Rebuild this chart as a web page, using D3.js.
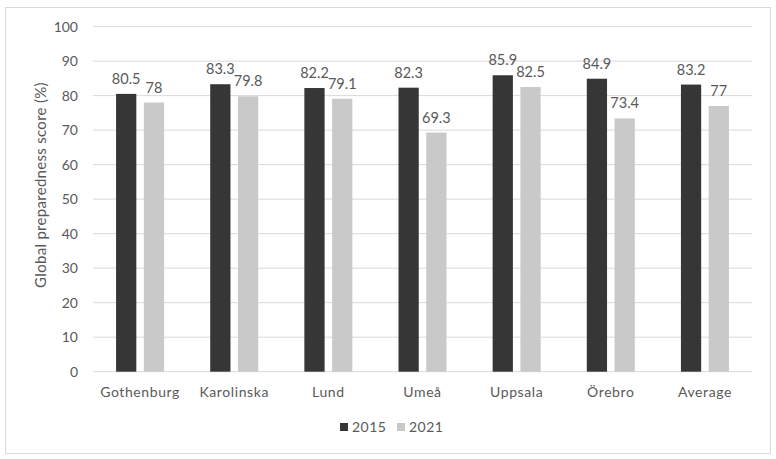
<!DOCTYPE html>
<html>
<head>
<meta charset="utf-8">
<script src="https://cdn.jsdelivr.net/npm/d3@7"></script>
<style>
  body { margin: 0; background: #fff; }
  text { font-family: Lato, "Open Sans", sans-serif; fill: #595959; }
</style>
</head>
<body>
<div id="chart"></div>
<script>
// chart data
const categories = ["Gothenburg", "Karolinska", "Lund", "Umeå", "Uppsala", "Örebro", "Average"];
const years = ["2015", "2021"];
const values2015 = [80.5, 83.3, 82.2, 82.3, 85.9, 84.9, 83.2];
const values2021 = [78, 79.8, 79.1, 69.3, 82.5, 73.4, 77];
const yTicks = [0, 10, 20, 30, 40, 50, 60, 70, 80, 90, 100];

const width = 776, height = 459;
const margin = {left: 93, right: 24, top: 26.6, bottom: 87.3};
const colors = {"2015": "#363636", "2021": "#c9c9c9"};

const svg = d3.select("#chart").append("svg")
	.attr("width", width)
	.attr("height", height);

// outer frame
svg.append("rect")
	.attr("x", 5.5).attr("y", 7.5)
	.attr("width", 765).attr("height", 446)
	.attr("fill", "#fff")
	.attr("stroke", "#d9d9d9")
	.attr("stroke-width", 1);

const x = d3.scaleBand()
	.domain(categories)
	.range([margin.left, width - margin.right])
	.padding(0);

const y = d3.scaleLinear()
	.domain([0, 100])
	.range([height - margin.bottom, margin.top]);

const sub = d3.scaleBand()
	.domain(years)
	.range([x.bandwidth() / 2 - 24, x.bandwidth() / 2 + 24])
	.paddingInner(0.27);

// gridlines
svg.append("g")
	.selectAll("line")
	.data(yTicks)
	.enter()
	.append("line")
		.attr("x1", margin.left)
		.attr("x2", width - margin.right)
		.attr("y1", d => y(d))
		.attr("y2", d => y(d))
		.attr("stroke", "#d9d9d9")
		.attr("stroke-width", 1);

// y axis labels
const yAxis = svg.append("g")
	.attr("transform", "translate(" + (margin.left - 12) + ",0)")
	.call(d3.axisLeft(y).tickValues(yTicks).tickSize(0).tickPadding(3));
yAxis.select(".domain").remove();
yAxis.selectAll("text").style("font-size", "14px").attr("fill", "#595959");

// x axis labels
const xAxis = svg.append("g")
	.attr("transform", "translate(0," + y(0) + ")")
	.call(d3.axisBottom(x).tickSize(0).tickPadding(15));
xAxis.select(".domain").remove();
xAxis.selectAll("text").style("font-size", "14px").style("letter-spacing", "0.6px").attr("fill", "#595959");

// bars
const rows = categories.map((c, i) => ({cat: c, vals: [
	{year: "2015", v: values2015[i]},
	{year: "2021", v: values2021[i]}
]}));

const groups = svg.append("g")
	.selectAll("g")
	.data(rows)
	.enter()
	.append("g")
		.attr("transform", d => "translate(" + x(d.cat) + ",0)");

groups.selectAll("rect")
	.data(d => d.vals)
	.enter()
	.append("rect")
		.attr("x", d => sub(d.year))
		.attr("width", sub.bandwidth())
		.attr("y", d => y(d.v))
		.attr("height", d => y(0) - y(d.v))
		.attr("fill", d => colors[d.year]);

groups.selectAll(".val")
	.data(d => d.vals)
	.enter()
	.append("text")
		.attr("class", "val")
		.attr("text-anchor", "middle")
		.attr("x", d => sub(d.year) + sub.bandwidth() / 2)
		.attr("y", d => y(d.v) - 10)
		.style("font-size", "14.5px")
		.text(d => d.v);

// y axis title
svg.append("text")
	.attr("transform", "rotate(-90)")
	.attr("text-anchor", "middle")
	.attr("x", -185)
	.attr("y", 46)
	.style("font-size", "15px")
	.style("letter-spacing", "0.3px")
	.text("Global preparedness score (%)");

// legend
const legend = svg.append("g")
	.attr("transform", "translate(340,427)");
const li = legend.selectAll("g")
	.data(years)
	.enter()
	.append("g")
		.attr("transform", (d, i) => "translate(" + (i * 57) + ",0)");
li.append("rect")
	.attr("x", 0).attr("y", -4)
	.attr("width", 8).attr("height", 8)
	.attr("fill", d => colors[d]);
li.append("text")
	.attr("x", 12)
	.attr("y", 5)
	.style("font-size", "14px")
	.style("letter-spacing", "0.5px")
	.text(d => d);
</script>
</body>
</html>
